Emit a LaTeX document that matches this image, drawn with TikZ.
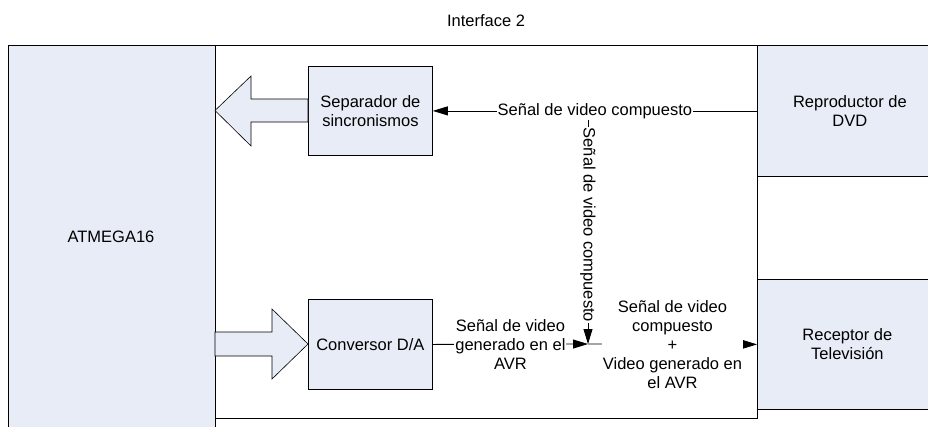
\documentclass[tikz,border=0pt]{standalone}
\usepackage{fontspec}
\setmainfont{Liberation Sans}
\usetikzlibrary{arrows.meta}
\definecolor{boxfill}{RGB}{231,236,247}
\begin{document}
\begin{tikzpicture}[x=1pt,y=-1pt,
  font=\fontsize{16.5}{19}\selectfont,
  blk/.style={draw=black, line width=0.8pt, fill=boxfill, inner sep=0pt, align=center, anchor=north west},
  frame/.style={draw=black, line width=0.8pt, inner sep=0pt, anchor=north west},
  lbl/.style={fill=white, inner sep=1pt, align=center},
  sig/.style={line width=0.8pt, -{Triangle[length=15pt,width=9pt]}},
  bigarrow/.style={draw=black, line width=0.6pt, fill=boxfill, line join=miter}]
\useasboundingbox (0,0) rectangle (928,426);
\clip (0,0) rectangle (928,426);

% title
\node (title) at (486,21) {Interface 2};

% interface frame
\node[frame, minimum width=542pt, minimum height=373pt] (iface) at (215,45) {};

% outer blocks
\node[blk, minimum width=207pt, minimum height=400pt] (atmbox) at (8,45) {};
\node (atm) at (111,237) {ATMEGA16};
\node[blk, minimum width=185pt, minimum height=131pt] (dvd) at (757,45) {Reproductor de\\DVD};
\node[blk, minimum width=180pt, minimum height=130pt] (tv) at (757,279) {Receptor de\\Televisión};

% inner blocks
\node[blk, minimum width=124pt, minimum height=89pt] (sep) at (308,66) {Separador de\\sincronismos};
\node[blk, minimum width=124pt, minimum height=90pt] (conv) at (308,299) {Conversor D/A};

% big arrows
\draw[bigarrow] (308,99) -- (251,99) -- (251,76) -- (215,110.5) -- (251,146) -- (251,122) -- (308,122) -- cycle;
\draw[bigarrow] (215,332) -- (272,332) -- (272,309) -- (308,344) -- (272,379) -- (272,356) -- (215,356) -- cycle;

% signal connectors
\coordinate (jt) at (588,110.5);
\coordinate (j) at (588,344);
\draw[sig] (jt) -- node[lbl, rotate=-90, pos=0.49] (lv) {Señal de video compuesto} (j);
\draw[sig] (dvd.west) -- node[lbl] (lt) {Señal de video compuesto} (sep.east);
\draw[sig] (conv.east) -- node[lbl] (lb) {Señal de video\\generado en el\\AVR} (j);
\draw[sig] (j) -- node[lbl] (lr) {Señal de video\\compuesto\\+\\Video generado en\\el AVR} (tv.west);
\end{tikzpicture}
\end{document}
